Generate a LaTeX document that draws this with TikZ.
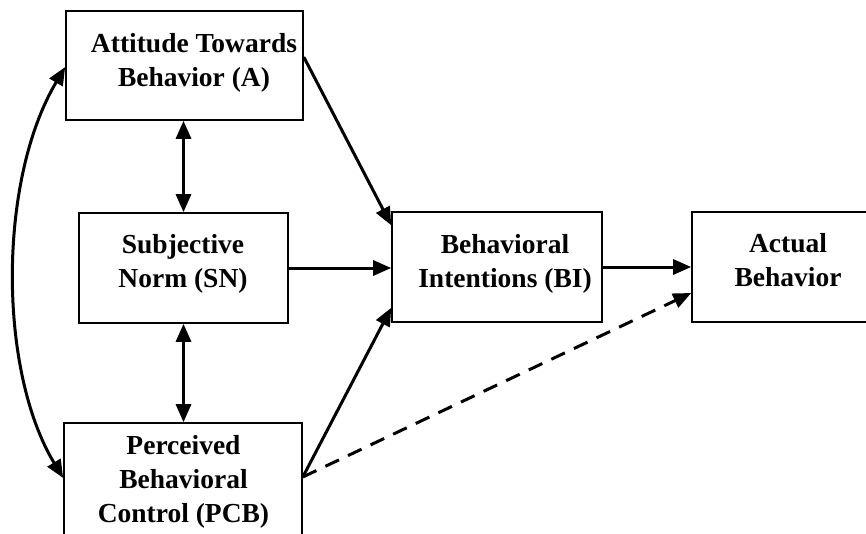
\documentclass[tikz,border=0pt]{standalone}
\usepackage{fontspec}
\setmainfont{Liberation Serif}
\usetikzlibrary{arrows.meta}
\begin{document}
\begin{tikzpicture}[x=1pt,y=-1pt,
  box/.style={draw=black, line width=1.6pt, rectangle, inner sep=0pt},
  lbl/.style={align=center, inner sep=0pt, font=\fontsize{27.5}{34}\selectfont\bfseries},
  conn/.style={line width=3pt, -{Triangle[length=18pt,width=15pt]}},
  dconn/.style={line width=3pt, {Triangle[length=18pt,width=15pt]}-{Triangle[length=18pt,width=15pt]}},
  dashconn/.style={conn, dash pattern=on 15pt off 10pt}]
\useasboundingbox (0,0) rectangle (866,533);
\fill[white] (0,0) rectangle (866,533);
\clip (0,0) rectangle (866,533);
% boxes
\node[box, minimum width=237pt, minimum height=109pt] (A) at (184.5,65.5) {};
\node[box, minimum width=209pt, minimum height=110pt] (SN) at (183.5,268) {};
\node[box, minimum width=238pt, minimum height=115pt] (PCB) at (183,480.5) {};
\node[box, minimum width=210pt, minimum height=110pt] (BI) at (497,267) {};
\node[box, minimum width=192pt, minimum height=110pt] (ACT) at (788,267) {};
% texts
\node[lbl] (At) at (194,63.3) {Attitude Towards\\Behavior (A)};
\node[lbl] (SNt) at (183,263.8) {Subjective\\Norm (SN)};
\node[lbl] (PCBt) at (183.5,481.8) {Perceived\\Behavioral\\Control (PCB)};
\node[lbl] (BIt) at (505,263.5) {Behavioral\\Intentions (BI)};
\node[lbl] (ACTt) at (788,260.3) {Actual\\Behavior};
% connectors
\draw[conn] ([yshift=8.5pt]A.east) -- ([yshift=-14pt]BI.north west);
\draw[conn] (SN.east) -- (SN.east -| BI.west);
\draw[conn] ([yshift=3.5pt]PCB.east) -- ([yshift=15pt]BI.south west);
\draw[conn] (BI.east) -- (ACT.west);
\draw[dashconn] ([yshift=3.5pt]PCB.east) -- ([yshift=-26pt]ACT.west);
\draw[dconn] (SN.north |- A.south) -- (SN.north);
\draw[dconn] (SN.south) -- (SN.south |- PCB.north);
\draw[dconn] ([yshift=-1.5pt]A.west) .. controls (-2,180) and (-2,370) .. ([yshift=2.5pt]PCB.west);
\end{tikzpicture}
\end{document}
